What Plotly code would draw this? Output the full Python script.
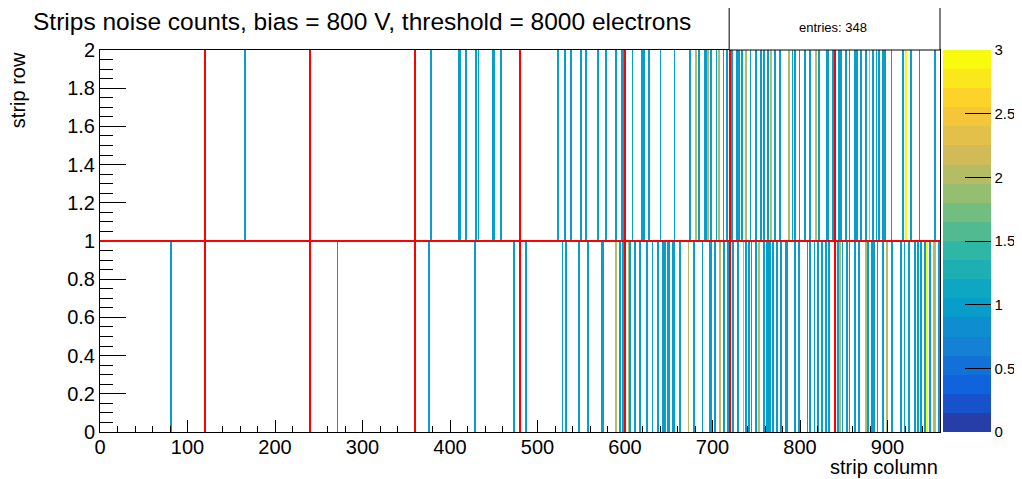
import numpy as np
import plotly.graph_objects as go

# ---------------- data ----------------
n_columns = 960
n_rows = 2

# hits in strip row 0 (y 0-1): column -> counts
row0_cols = [81, 271, 375, 376, 428, 473, 486, 528, 532, 547, 557, 573, 574, 589, 594, 597,
             604, 605, 611, 617, 625, 631, 637, 643, 645, 648, 650, 654, 656, 662, 672, 678,
             688, 696, 698, 702, 708, 713, 717, 723, 729, 735, 738, 741, 744, 749, 753, 758,
             762, 763, 765, 769, 773, 778, 783, 785, 794, 798, 808, 811, 816, 820, 825, 829,
             833, 843, 845, 848, 853, 856, 862, 867, 875, 877, 882, 884, 888, 894, 899, 905,
             915, 919, 924, 931, 934, 938, 942, 945, 948, 952, 954, 958]
row0_vals = [1, 1, 1, 1, 1, 1, 1, 1, 1, 1, 1, 1, 1, 2, 1, 1,
             2, 1, 1, 1, 1, 1, 1, 1, 1, 1, 1, 1, 1, 1, 2, 1,
             1, 1, 1, 1, 2, 1, 1, 1, 1, 2, 1, 1, 1, 1, 2, 1,
             1, 1, 1, 1, 1, 1, 1, 1, 1, 1, 1, 1, 1, 1, 1, 1,
             1, 1, 2, 1, 1, 1, 1, 1, 2, 1, 1, 1, 1, 1, 2, 1,
             1, 1, 1, 1, 1, 1, 1, 3, 1, 2, 2, 1]

# hits in strip row 1 (y 1-2)
row1_cols = [165, 378, 410, 411, 418, 429, 432, 449, 450, 458, 523, 531, 538, 549, 555, 569,
             578, 589, 596, 598, 608, 619, 621, 627, 640, 656, 674, 680, 681, 684, 691, 693,
             694, 698, 704, 707, 712, 716, 722, 727, 729, 730, 733, 738, 743, 749, 755, 758,
             763, 766, 771, 777, 787, 791, 794, 799, 805, 811, 818, 821, 830, 832, 837, 844,
             845, 847, 852, 856, 862, 865, 869, 875, 879, 883, 887, 890, 894, 897, 904, 917,
             921, 926, 936, 954]
row1_vals = [1, 1, 1, 1, 1, 1, 1, 1, 1, 1, 1, 1, 1, 1, 1, 1,
             1, 1, 1, 1, 1, 1, 1, 1, 1, 1, 1, 1, 2, 1, 1, 1,
             2, 1, 1, 2, 1, 1, 1, 1, 1, 1, 1, 2, 1, 1, 1, 1,
             1, 2, 1, 1, 2, 1, 1, 1, 1, 1, 2, 1, 1, 1, 1, 1,
             1, 1, 1, 1, 1, 1, 1, 1, 2, 1, 1, 1, 1, 1, 1, 1,
             3, 1, 1, 1]

sensor_boundaries_x = [120, 240, 360, 480, 600, 720, 840]
row_boundary_y = 1
entries_text = "entries: 348"
title_text = "Strips noise counts, bias = 800 V, threshold = 8000 electrons"

# ROOT kBird palette, 20 contour bands
stops = [0.0, 0.125, 0.25, 0.375, 0.5, 0.625, 0.75, 0.875, 1.0]
red = [0.2082, 0.0592, 0.0780, 0.0232, 0.1802, 0.5301, 0.8186, 0.9956, 0.9764]
green = [0.1664, 0.3599, 0.5041, 0.6419, 0.7178, 0.7492, 0.7328, 0.7862, 0.9832]
blue = [0.5293, 0.8684, 0.8385, 0.7914, 0.6425, 0.4662, 0.3499, 0.1968, 0.0539]


def bird(t):
    r = np.interp(t, stops, red)
    g = np.interp(t, stops, green)
    b = np.interp(t, stops, blue)
    return "rgb(%d,%d,%d)" % (round(r * 255), round(g * 255), round(b * 255))


ndiv = 20
colorscale = []
for k in range(ndiv):
    idx = min(int((k + 0.99) * 255 / ndiv), 254)
    col = bird(idx / 254)
    colorscale.append([k / ndiv, col])
    colorscale.append([(k + 1) / ndiv, col])

FONT = "Liberation Sans, Arial, Helvetica, sans-serif"

# page has an 8px body margin, so the figure is laid out 8px smaller
W, H = 1014, 471

colorbar = dict(
    x=1.0036, xanchor="left", xpad=0, ypad=0, y=0, yanchor="bottom",
    len=1, lenmode="fraction", thickness=48, thicknessmode="pixels",
    outlinewidth=0, ticks="inside", ticklen=26, tickcolor="black", tickwidth=1,
    tickvals=[0, 0.5, 1, 1.5, 2, 2.5, 3],
    ticktext=["0", "0.5", "1", "1.5", "2", "2.5", "3"],
    tickfont=dict(family=FONT, size=15, color="black"),
)

fig = go.Figure()
for row_index, (cols, vals) in enumerate([(row0_cols, row0_vals), (row1_cols, row1_vals)]):
    fig.add_trace(go.Bar(
        x=[c + 0.5 for c in cols], y=[1] * len(cols), base=row_index, width=1,
        marker=dict(color=vals, colorscale=colorscale, cmin=0, cmax=3,
                    line=dict(width=0), showscale=(row_index == 0),
                    colorbar=colorbar),
        hoverinfo="skip",
    ))

shapes = []
for xb in sensor_boundaries_x:
    shapes.append(dict(type="line", xref="x", yref="y", x0=xb, x1=xb, y0=0, y1=2,
                       line=dict(color="#ff0000", width=2)))
shapes.append(dict(type="line", xref="x", yref="y", x0=0, x1=960, y0=row_boundary_y,
                   y1=row_boundary_y, line=dict(color="#ff0000", width=2)))
shapes.append(dict(type="rect", xref="paper", yref="paper", x0=0.749, x1=1.0,
                   y0=1.0, y1=1.118, line=dict(color="black", width=1), fillcolor="white"))

fig.update_layout(
    width=W, height=H,
    margin=dict(l=92, r=82, t=42, b=47, autoexpand=False),
    paper_bgcolor="white", plot_bgcolor="white",
    font=dict(family=FONT, color="black"),
    showlegend=False, barmode="overlay", bargap=0,
    shapes=shapes,
    title=dict(text=title_text, x=25 / W, xanchor="left", xref="container",
               y=1 - 13 / H, yanchor="middle", yref="container",
               font=dict(family=FONT, size=24.5, color="black")),
    xaxis=dict(range=[0, n_columns], showgrid=False, zeroline=False, showline=True,
               linecolor="black", linewidth=1, mirror=True,
               ticks="inside", ticklen=12, tickcolor="black", dtick=100, tick0=0,
               ticklabelstandoff=-3,
               minor=dict(ticks="inside", ticklen=6, dtick=20, tickcolor="black", showgrid=False),
               tickfont=dict(family=FONT, size=20), fixedrange=True),
    yaxis=dict(range=[0, n_rows], showgrid=False, zeroline=False, showline=True,
               linecolor="black", linewidth=1, mirror=True,
               ticks="inside", ticklen=26, tickcolor="black", dtick=0.2, tick0=0,
               minor=dict(ticks="inside", ticklen=13, dtick=0.05, tickcolor="black", showgrid=False),
               tickfont=dict(family=FONT, size=20), fixedrange=True),
    annotations=[
        dict(text=entries_text, xref="paper", yref="paper", x=0.8726, y=1.059,
             xanchor="center", yanchor="middle",
             showarrow=False, font=dict(family=FONT, size=13)),
        dict(text="strip column", xref="paper", yref="paper", x=1.0, y=-0.0916,
             xanchor="right", yanchor="middle", showarrow=False,
             font=dict(family=FONT, size=20)),
        dict(text="strip row", xref="paper", yref="paper", x=-0.0976, y=0.895,
             xanchor="center", yanchor="middle", textangle=-90, showarrow=False,
             font=dict(family=FONT, size=20)),
    ],
)

fig.write_html("out.html")
